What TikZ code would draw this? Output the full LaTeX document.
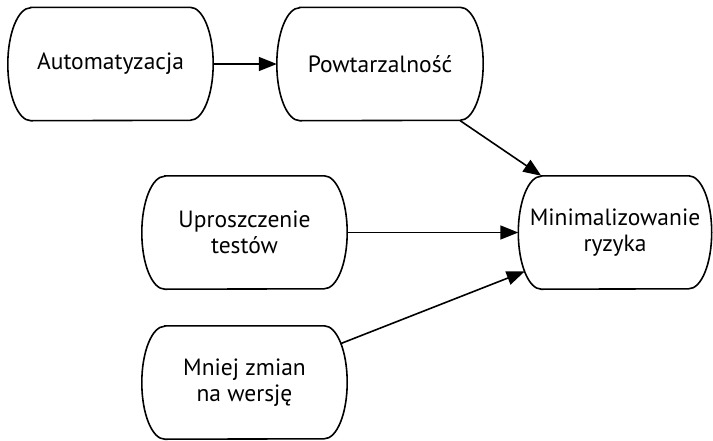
\documentclass[tikz,border=0pt]{standalone}
\usepackage{fontspec}
\setmainfont{PT Sans}
\usetikzlibrary{arrows.meta,calc}
\tikzset{
  capsule/.style={minimum width=#1, minimum height=113pt, inner sep=0pt, align=center,
    font=\fontsize{23.5}{26.5}\selectfont,
    append after command={\pgfextra{\draw[line width=1.6pt]
      ([xshift=23pt]\tikzlastnode.north west) -- ([xshift=-23pt]\tikzlastnode.north east)
      arc[start angle=90,end angle=-90,x radius=23pt,y radius=56.5pt]
      -- ([xshift=23pt]\tikzlastnode.south west)
      arc[start angle=270,end angle=90,x radius=23pt,y radius=56.5pt] -- cycle;}}},
  conn/.style={line width=1.6pt, -{Triangle[length=18pt,width=14pt]}}
}
\begin{document}
\begin{tikzpicture}[x=1pt,y=1pt]
\useasboundingbox (0,0) rectangle (713,-440);
\node[capsule=205pt] (au) at (110.5,-64) {Automatyzacja};
\node[capsule=206pt] (pw) at (380,-64) {Powtarzalność};
\node[capsule=205pt] (up) at (244.5,-232.5) {Uproszczenie\\testów};
\node[capsule=205pt] (mz) at (244.5,-382.5) {Mniej zmian\\na wersję};
\node[capsule=193pt] (mr) at (615,-232.5) {Minimalizowanie\\ryzyka};
\draw[conn] (au.east) -- (pw.west);
\draw[conn] ([xshift=-23pt]pw.south east) -- ([xshift=23pt]mr.north west);
\draw[conn] (up.east) -- (mr.west);
\draw[conn] ($(mz.east)+(-23pt,0)+(43.6:23pt and 56.5pt)$) -- ($(mr.west)+(23pt,0)+(223.6:23pt and 56.5pt)$);
\end{tikzpicture}
\end{document}
